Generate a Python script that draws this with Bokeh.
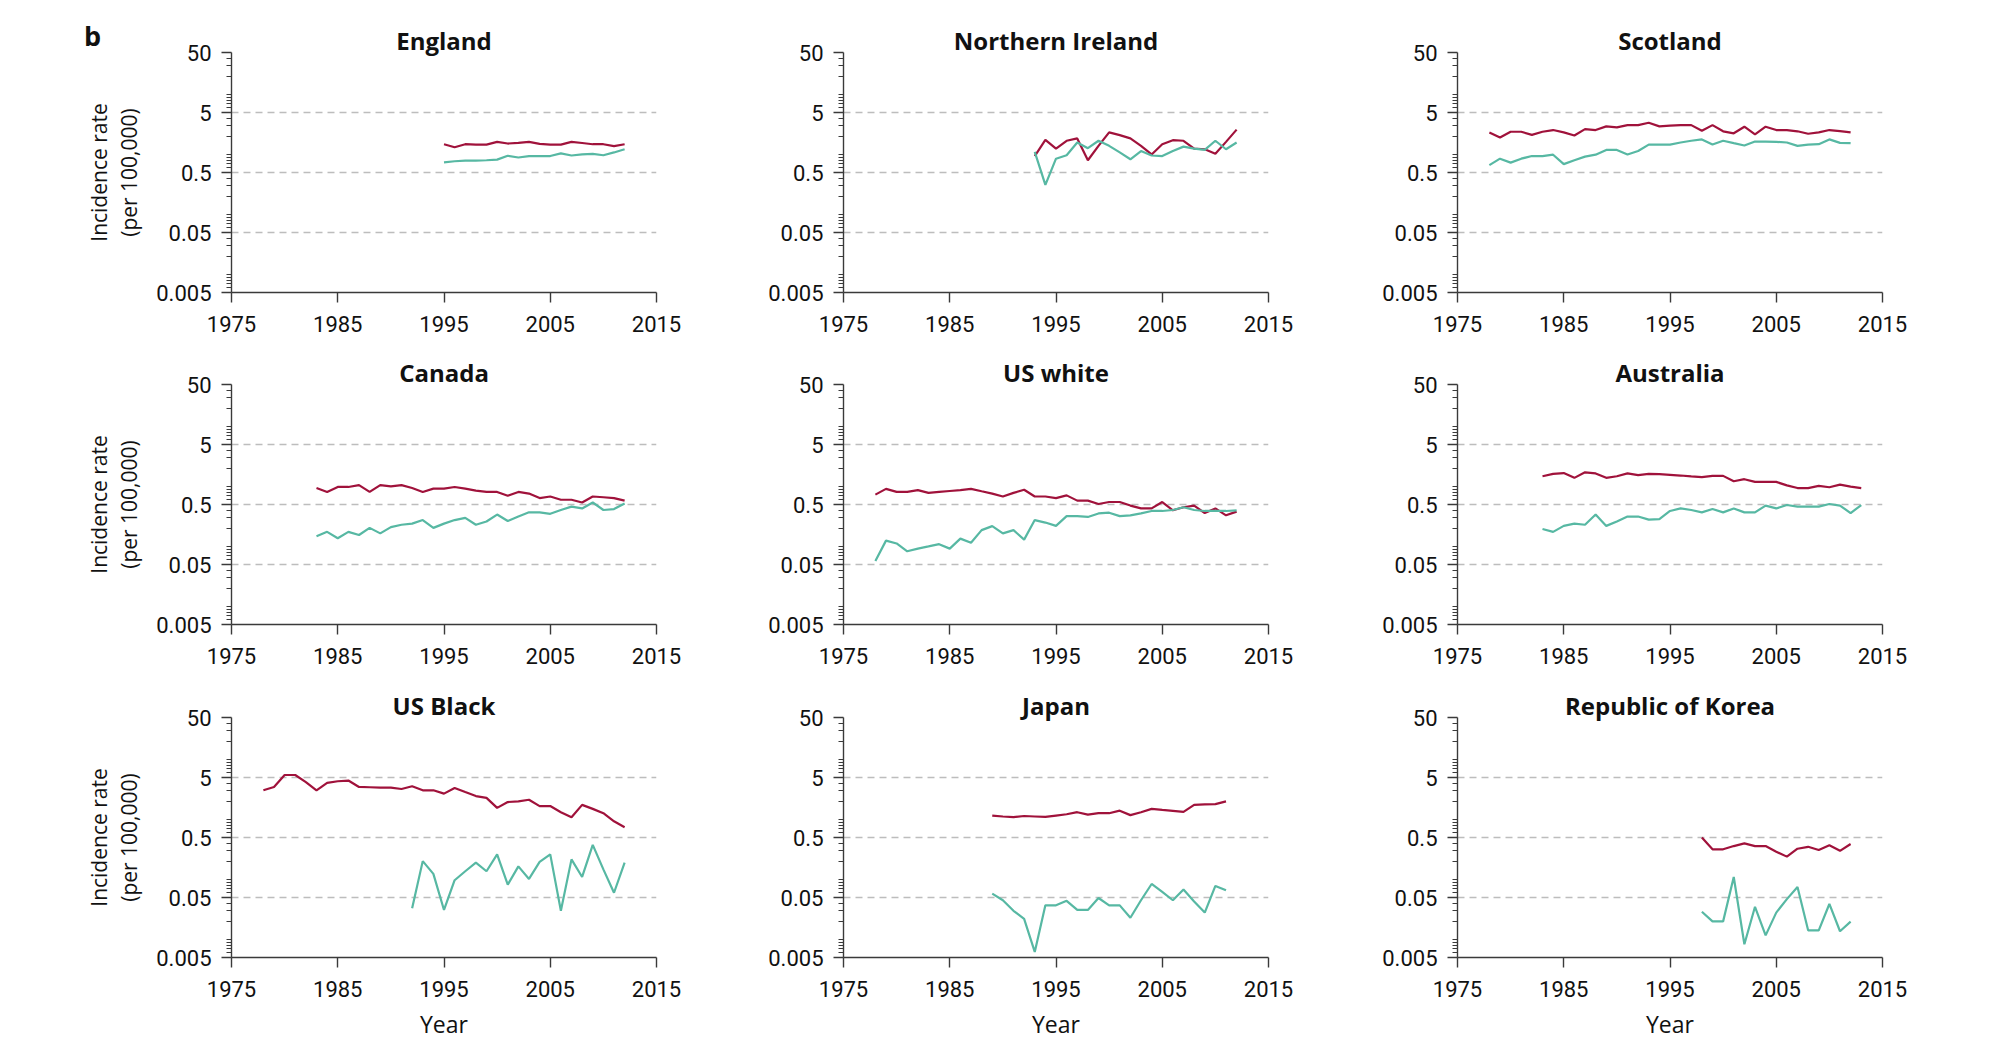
from bokeh.plotting import figure
from bokeh.layouts import gridplot, column
from bokeh.models import FixedTicker, LogAxis, PrintfTickFormatter, Div
from bokeh.embed import file_html
from bokeh.resources import INLINE

# ---------------- data ----------------
england_years = list(range(1995, 2013))
england_red = [1.48, 1.32, 1.48, 1.46, 1.46, 1.62, 1.52, 1.56, 1.62, 1.50, 1.46, 1.46, 1.62, 1.55, 1.48, 1.48, 1.38, 1.48]
england_teal = [0.74, 0.77, 0.79, 0.79, 0.80, 0.82, 0.95, 0.89, 0.94, 0.94, 0.94, 1.04, 0.96, 1.00, 1.02, 0.97, 1.08, 1.22]

nireland_years = list(range(1993, 2013))
nireland_red = [0.94, 1.75, 1.25, 1.69, 1.85, 0.80, 1.39, 2.33, 2.10, 1.85, 1.39, 1.00, 1.48, 1.73, 1.69, 1.25, 1.22, 1.03, 1.62, 2.59]
nireland_teal = [1.10, 0.31, 0.85, 0.97, 1.58, 1.27, 1.69, 1.39, 1.08, 0.83, 1.14, 0.96, 0.94, 1.14, 1.35, 1.25, 1.19, 1.69, 1.22, 1.58]

scotland_years = list(range(1978, 2013))
scotland_red = [2.33, 1.92, 2.39, 2.39, 2.12, 2.39, 2.55, 2.33, 2.07, 2.64, 2.55, 2.94, 2.83, 3.08, 3.08, 3.37, 2.94, 3.02,
                3.08, 3.08, 2.48, 3.08, 2.43, 2.25, 2.90, 2.16, 2.90, 2.55, 2.55, 2.43, 2.21, 2.33, 2.55, 2.45, 2.33]
scotland_teal = [0.665, 0.85, 0.73, 0.85, 0.94, 0.94, 0.99, 0.69, 0.80, 0.92, 0.99, 1.19, 1.19, 1.00, 1.14, 1.46, 1.46, 1.46,
                 1.58, 1.69, 1.78, 1.46, 1.69, 1.54, 1.41, 1.64, 1.64, 1.62, 1.58, 1.39, 1.46, 1.48, 1.78, 1.56, 1.54]

canada_years = list(range(1983, 2013))
canada_red = [0.94, 0.81, 0.98, 0.98, 1.05, 0.81, 1.05, 1.00, 1.05, 0.94, 0.81, 0.92, 0.92, 0.98, 0.92, 0.85, 0.81, 0.81,
              0.70, 0.81, 0.76, 0.64, 0.68, 0.60, 0.60, 0.54, 0.68, 0.66, 0.64, 0.58]
canada_teal = [0.148, 0.175, 0.137, 0.175, 0.155, 0.204, 0.165, 0.21, 0.23, 0.24, 0.275, 0.204, 0.24, 0.275, 0.30, 0.23,
               0.26, 0.34, 0.265, 0.315, 0.37, 0.37, 0.35, 0.405, 0.46, 0.43, 0.54, 0.405, 0.42, 0.52]

uswhite_years = list(range(1978, 2013))
uswhite_red = [0.73, 0.91, 0.81, 0.81, 0.87, 0.78, 0.81, 0.84, 0.87, 0.91, 0.83, 0.76, 0.68, 0.78, 0.88, 0.68, 0.68, 0.64,
               0.71, 0.58, 0.58, 0.51, 0.55, 0.55, 0.48, 0.43, 0.43, 0.55, 0.40, 0.45, 0.48, 0.36, 0.43, 0.33, 0.38]
uswhite_teal = [0.057, 0.125, 0.112, 0.083, 0.092, 0.10, 0.109, 0.092, 0.135, 0.115, 0.187, 0.218, 0.165, 0.187, 0.13,
                0.275, 0.25, 0.22, 0.32, 0.32, 0.31, 0.355, 0.365, 0.32, 0.33, 0.355, 0.39, 0.39, 0.405, 0.45, 0.405,
                0.39, 0.39, 0.39, 0.40]

australia_years = list(range(1983, 2014))
australia_red = [1.48, 1.62, 1.67, 1.39, 1.72, 1.65, 1.39, 1.48, 1.65, 1.54, 1.62, 1.60, 1.56, 1.52, 1.47, 1.43, 1.50,
                 1.50, 1.22, 1.32, 1.19, 1.19, 1.19, 1.04, 0.94, 0.94, 1.02, 0.97, 1.07, 0.99, 0.94]
australia_teal = [0.195, 0.175, 0.22, 0.24, 0.23, 0.34, 0.22, 0.26, 0.315, 0.315, 0.28, 0.285, 0.39, 0.43, 0.405, 0.37,
                  0.42, 0.37, 0.43, 0.37, 0.37, 0.48, 0.43, 0.49, 0.46, 0.46, 0.46, 0.51, 0.48, 0.36, 0.49]

usblack_red_years = list(range(1978, 2013))
usblack_red = [3.06, 3.48, 5.5, 5.5, 4.2, 3.06, 4.06, 4.33, 4.45, 3.48, 3.44, 3.40, 3.40, 3.22, 3.57, 3.06, 3.06, 2.69,
               3.35, 2.86, 2.45, 2.29, 1.56, 1.95, 2.00, 2.13, 1.67, 1.67, 1.32, 1.09, 1.75, 1.50, 1.27, 0.93, 0.74]
usblack_teal_years = list(range(1992, 2013))
usblack_teal = [0.033, 0.202, 0.124, 0.031, 0.097, 0.137, 0.19, 0.137, 0.262, 0.082, 0.165, 0.102, 0.196, 0.262, 0.030,
                0.216, 0.11, 0.376, 0.147, 0.06, 0.19]

japan_years = list(range(1989, 2012))
japan_red = [1.16, 1.12, 1.09, 1.14, 1.12, 1.10, 1.16, 1.22, 1.32, 1.20, 1.27, 1.27, 1.40, 1.18, 1.32, 1.50, 1.44, 1.39,
             1.34, 1.75, 1.78, 1.80, 2.00]
japan_teal = [0.058, 0.045, 0.030, 0.022, 0.0062, 0.037, 0.037, 0.044, 0.031, 0.031, 0.049, 0.037, 0.037, 0.023, 0.045,
              0.084, 0.062, 0.045, 0.068, 0.043, 0.028, 0.078, 0.066]

korea_years = list(range(1998, 2013))
korea_red = [0.50, 0.318, 0.318, 0.36, 0.40, 0.36, 0.36, 0.29, 0.24, 0.325, 0.35, 0.31, 0.37, 0.30, 0.39]
korea_teal = [0.029, 0.020, 0.020, 0.110, 0.0083, 0.035, 0.0117, 0.028, 0.047, 0.075, 0.0142, 0.0142, 0.039, 0.0137, 0.0198]

x_ticks = [1975, 1985, 1995, 2005, 2015]
y_ticks = [0.005, 0.05, 0.5, 5, 50]
grid_ticks = [0.05, 0.5, 5]

panels = [
    ("England", england_years, england_red, england_years, england_teal),
    ("Northern Ireland", nireland_years, nireland_red, nireland_years, nireland_teal),
    ("Scotland", scotland_years, scotland_red, scotland_years, scotland_teal),
    ("Canada", canada_years, canada_red, canada_years, canada_teal),
    ("US white", uswhite_years, uswhite_red, uswhite_years, uswhite_teal),
    ("Australia", australia_years, australia_red, australia_years, australia_teal),
    ("US Black", usblack_red_years, usblack_red, usblack_teal_years, usblack_teal),
    ("Japan", japan_years, japan_red, japan_years, japan_teal),
    ("Republic of Korea", korea_years, korea_red, korea_years, korea_teal),
]

# ---------------- style ----------------
RED = "#a0123b"
TEAL = "#57b8a3"
AXIS = "#3a3a3a"
TXT = "#111111"
TICK_FONT = "Roboto"
LABEL_FONT = "Open Sans"
TITLE_FONT = "Open Sans"

minor = []
for k in range(-3, 2):
    for m in range(1, 10):
        v = round(m * 10 ** k, 6)
        if 0.005 < v < 50 and v not in y_ticks:
            minor.append(v)

FRAME_W, FRAME_H = 425, 240
lefts = [231, 157, 159]
rights = [30, 30, 30]
tops = [52, 42, 43]
bottoms = [50, 50, 82]

figs = []
for i, (name, xr, yr_, xt, yt) in enumerate(panels):
    r, c = divmod(i, 3)
    p = figure(frame_width=FRAME_W, frame_height=FRAME_H, x_range=(1975, 2015), y_range=(0.005, 50),
               y_axis_type="log", output_backend="svg", toolbar_location=None,
               min_border_left=lefts[c], min_border_right=rights[c],
               min_border_top=tops[r], min_border_bottom=bottoms[r])
    p.outline_line_color = None
    p.background_fill_color = "white"
    p.title.text = name
    p.title.align = "center"
    p.title.text_font = TITLE_FONT
    p.title.text_font_size = "24px"
    p.title.text_font_style = "bold"
    p.title.text_color = TXT
    p.title.standoff = -8

    p.line(xr, yr_, line_color=RED, line_width=2.2)
    p.line(xt, yt, line_color=TEAL, line_width=2.2)

    p.xgrid.visible = False
    p.ygrid.ticker = FixedTicker(ticks=grid_ticks)
    p.ygrid.grid_line_color = "#bdbdbd"
    p.ygrid.grid_line_width = 1.4
    p.ygrid.grid_line_dash = "7 5"

    xa = p.xaxis[0]
    xa.ticker = FixedTicker(ticks=x_ticks)
    ya = p.yaxis[0]
    ya.ticker = FixedTicker(ticks=y_ticks, minor_ticks=minor)
    ya.formatter = PrintfTickFormatter(format="%g")
    for ax in (xa, ya):
        ax.axis_line_color = AXIS
        ax.axis_line_width = 1.4
        ax.major_tick_line_color = AXIS
        ax.major_tick_line_width = 1.4
        ax.minor_tick_line_color = AXIS
        ax.minor_tick_line_width = 1.0
        ax.major_tick_in = 0
        ax.major_tick_out = 10
        ax.minor_tick_in = 0
        ax.minor_tick_out = 5
        ax.major_label_text_font = TICK_FONT
        ax.major_label_text_font_size = "22px"
        ax.major_label_text_color = TXT
        ax.major_label_standoff = 13
        ax.axis_label_text_font = LABEL_FONT
        ax.axis_label_text_font_size = "21px"
        ax.axis_label_text_font_style = "normal"
        ax.axis_label_text_color = TXT
    xa.minor_tick_out = 0
    ya.major_label_standoff = 10

    if r == 2:
        xa.axis_label = "Year"
        xa.axis_label_text_font_size = "23px"
        xa.axis_label_standoff = 8
    if c == 0:
        ya.axis_label = "(per 100,000)"
        ya.axis_label_standoff = 10
        outer = LogAxis(ticker=FixedTicker(ticks=[]), axis_label="Incidence rate",
                        axis_line_color=None, major_tick_out=0, major_tick_in=0,
                        minor_tick_out=0, minor_tick_in=0, major_label_standoff=0,
                        axis_label_standoff=0, axis_label_text_font=LABEL_FONT,
                        axis_label_text_font_size="21px", axis_label_text_font_style="normal",
                        axis_label_text_color=TXT)
        p.add_layout(outer, "left")
    figs.append(p)

grid = gridplot([figs[0:3], figs[3:6], figs[6:9]], toolbar_location=None)

panel_letter = Div(text="b", styles={"position": "absolute", "left": "79px", "top": "13px",
                                     "font-family": "Open Sans", "font-size": "27px",
                                     "font-weight": "bold", "color": TXT, "z-index": "10",
                                     "line-height": "36px"})
layout = column(panel_letter, grid)
open("out.html", "w").write(file_html(layout, INLINE))
